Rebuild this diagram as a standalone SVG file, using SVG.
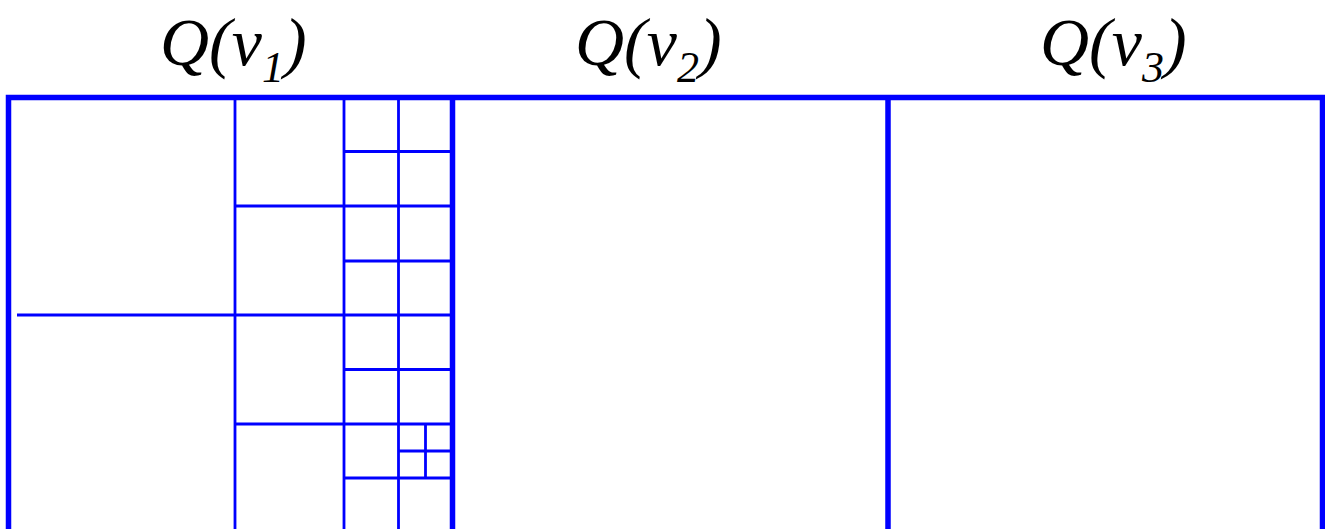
<svg xmlns="http://www.w3.org/2000/svg" width="1325" height="529" viewBox="0 0 1325 529">
<style>
.frame{stroke:#0000ff;stroke-width:5.5;fill:none}
.thin{stroke:#0000ff;stroke-width:2.8;fill:none}
.lbl{font-family:"Liberation Serif",serif;font-style:italic;font-size:68px;fill:#000}
.sub{font-size:44px}
</style>
<rect width="1325" height="529" fill="#fff"/>
<g id="label-v1"><text class="lbl" x="160" y="65">Q(v<tspan class="sub" dy="17">1</tspan><tspan dy="-17">)</tspan></text></g>
<g id="label-v2"><text class="lbl" x="575" y="65">Q(v<tspan class="sub" dy="17">2</tspan><tspan dy="-17">)</tspan></text></g>
<g id="label-v3"><text class="lbl" x="1040" y="65">Q(v<tspan class="sub" dy="17">3</tspan><tspan dy="-17">)</tspan></text></g>
<g id="grid-v1">
<path class="thin" d="M235,97V529M344,97V529M398.5,97V529M17,315H452M235,206H452M235,424H452M344,151.5H452M344,261H452M344,369.5H452M344,478H452M425.5,424V478M398.5,451H452"/>
</g>
<g id="frame">
<path class="frame" d="M8.5,529V97.5H1322.5V529M452.5,97.5V529M888,97.5V529"/>
</g>
</svg>
